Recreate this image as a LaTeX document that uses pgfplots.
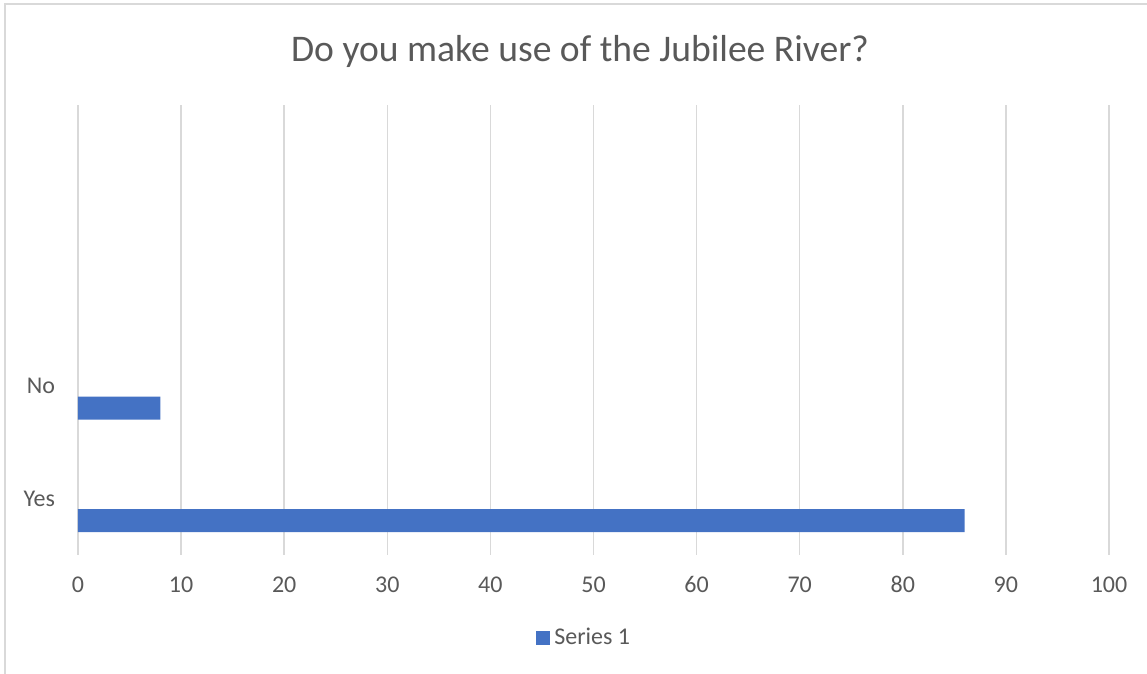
\documentclass[border=0pt]{standalone}
\usepackage{pgfplots}
\pgfplotsset{compat=1.18}
\usepackage{fontspec}
\setmainfont{Carlito}
\definecolor{barblue}{HTML}{4472C4}
\definecolor{txtgray}{HTML}{595959}
\definecolor{gridgray}{HTML}{D9D9D9}
\begin{document}
\begin{tikzpicture}
% canvas: 1 pt = 2 px of the reference
\path[use as bounding box] (0,0) rectangle (573.5pt,337pt);
\draw[gridgray, line width=0.75pt] (2.5pt,0) -- (2.5pt,335pt) -- (573.5pt,335pt);
\node[anchor=base, text=txtgray, font=\fontsize{18.8}{22}\selectfont] at (290pt,306pt)
    {Do you make use of the Jubilee River?};
\begin{axis}[
    at={(39pt,59.5pt)}, anchor=south west,
    scale only axis,
    width=515.5pt, height=225pt,
    xbar, bar width=11.5pt, bar shift=-11pt,
    xmin=0, xmax=100, xtick distance=10,
    ymin=-0.5, ymax=3.5,
    ytick={0,1}, yticklabels={Yes,No},
    axis line style={draw=none},
    xmajorgrids=true, ymajorgrids=false,
    major grid style={gridgray, line width=0.75pt},
    major tick length=0pt,
    /pgf/number format/assume math mode=true,
    tick label style={text=txtgray, font=\fontsize{12}{14}\selectfont},
    xticklabel style={anchor=base, yshift=-19pt},
    yticklabel style={anchor=east, xshift=-8pt},
    legend style={at={(0.492,-0.184)}, anchor=center, draw=none,
        font=\fontsize{12}{14}\selectfont, text=txtgray},
    legend image code/.code={\fill[#1] (0pt,-3.5pt) rectangle (7pt,3.5pt);},
]
\addplot[fill=barblue, draw=none] coordinates {(86,0) (8,1)};
\addlegendentry{Series 1}
\end{axis}
\end{tikzpicture}
\end{document}
